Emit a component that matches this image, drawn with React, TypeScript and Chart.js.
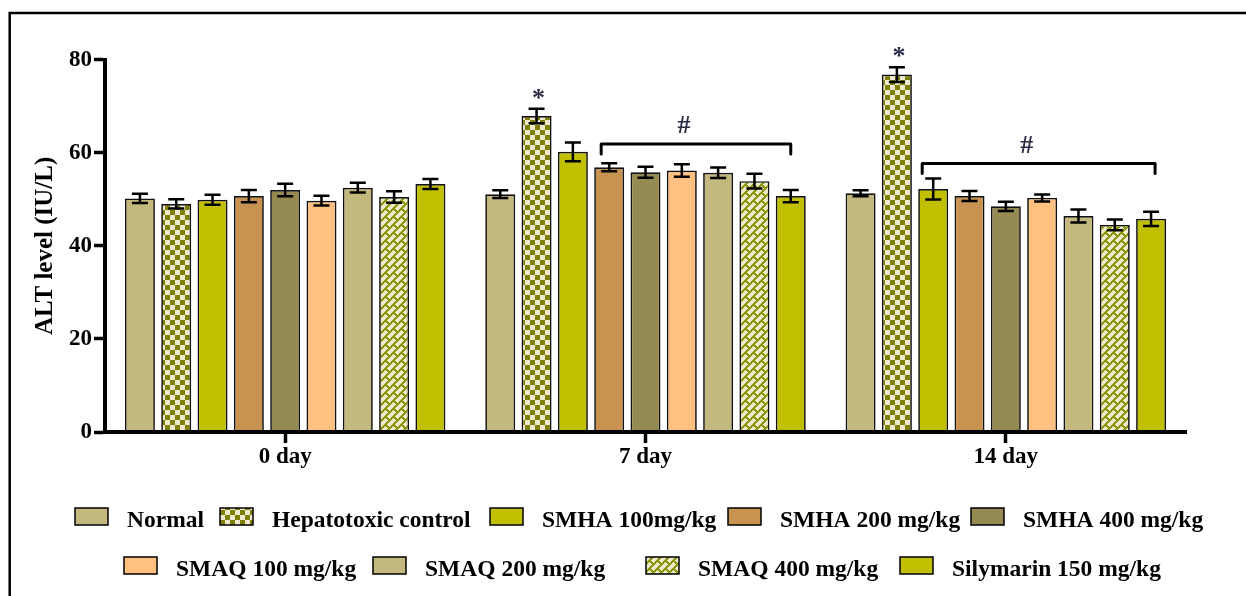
import React, { useEffect, useRef } from 'react';
import { Chart, registerables } from 'chart.js';

Chart.register(...registerables);

// ---------- data ----------
const CATEGORIES = ['0 day', '7 day', '14 day'];
const Y_TICKS = [0, 20, 40, 60, 80];

const NORMAL = [50.2, 51.1, 51.3];
const NORMAL_ERR = [0.97, 0.83, 0.65];
const HEPATOTOXIC = [49.0, 67.9, 76.8];
const HEPATOTOXIC_ERR = [1.0, 1.54, 1.6];
const SMHA100 = [49.9, 60.2, 52.2];
const SMHA100_ERR = [1.08, 2.0, 2.26];
const SMHA200 = [50.7, 56.9, 50.7];
const SMHA200_ERR = [1.32, 0.86, 1.08];
const SMHA400 = [52.0, 55.8, 48.5];
const SMHA400_ERR = [1.32, 1.18, 1.0];
const SMAQ100 = [49.7, 56.2, 50.3];
const SMAQ100_ERR = [1.04, 1.36, 0.75];
const SMAQ200 = [52.5, 55.7, 46.4];
const SMAQ200_ERR = [1.04, 1.11, 1.4];
const SMAQ400 = [50.5, 53.9, 44.5];
const SMAQ400_ERR = [1.22, 1.57, 1.15];
const SILYMARIN = [53.3, 50.7, 45.8];
const SILYMARIN_ERR = [1.08, 1.32, 1.55];

const SERIES_LABELS = [
  'Normal',
  'Hepatotoxic control',
  'SMHA 100mg/kg',
  'SMHA 200 mg/kg',
  'SMHA 400 mg/kg',
  'SMAQ 100 mg/kg',
  'SMAQ 200 mg/kg',
  'SMAQ 400 mg/kg',
  'Silymarin 150 mg/kg',
];
const SERIES_VALUES = [NORMAL, HEPATOTOXIC, SMHA100, SMHA200, SMHA400, SMAQ100, SMAQ200, SMAQ400, SILYMARIN];
const SERIES_ERRORS = [NORMAL_ERR, HEPATOTOXIC_ERR, SMHA100_ERR, SMHA200_ERR, SMHA400_ERR, SMAQ100_ERR, SMAQ200_ERR, SMAQ400_ERR, SILYMARIN_ERR];
const SERIES_FILLS = ['#C3B87D', 'checker', '#C0C000', '#C89250', '#948A52', '#FFC080', '#C3B87D', 'brick', '#C0C000'];

// significance marks: [categoryIndex, seriesIndex]
const STAR_MARKS = [[1, 1], [2, 1]];
// brackets: category, from series, to series, y value
const BRACKET_CATEGORY = [1, 2];
const BRACKET_FROM = [3, 2];
const BRACKET_TO = [8, 8];
const BRACKET_Y = [61.9, 57.7];
const BRACKET_LABEL = ['#', '#'];

// ---------- layout (not data) ----------
const BRACKET_LEFT_DX = [-8, -11];
const BRACKET_RIGHT_DX = [0, 4];
const LEGEND_ROW_TOP = [508, 557];
const LEGEND_BOX_X = [75, 220, 490, 728, 971, 124, 373, 646, 900];
const LEGEND_ROW = [0, 0, 0, 0, 0, 1, 1, 1, 1];

const FONT = "'Liberation Serif', 'Times New Roman', serif";

function makeChecker(): CanvasPattern | string {
  const c = document.createElement('canvas');
  c.width = 10;
  c.height = 10;
  const g = c.getContext('2d')!;
  g.fillStyle = '#F0E9D2';
  g.fillRect(0, 0, 10, 10);
  g.fillStyle = '#808000';
  g.fillRect(0, 0, 5, 5);
  g.fillRect(5, 5, 5, 5);
  return g.createPattern(c, 'repeat') || '#808000';
}

function makeBrick(): CanvasPattern | string {
  const n = 16;
  const c = document.createElement('canvas');
  c.width = n;
  c.height = n;
  const g = c.getContext('2d')!;
  const img = g.createImageData(n, n);
  for (let y = 0; y < n; y++) {
    for (let x = 0; x < n; x++) {
      const s = (x + y) % n;
      const strip = Math.floor(s / 8);
      const d = (((x - y) % n) + n) % n;
      const line = s % 8 < 3 || (d + strip * 8) % n < 3;
      const i = (y * n + x) * 4;
      if (line) {
        img.data[i] = 0x8C; img.data[i + 1] = 0x98; img.data[i + 2] = 0x10;
      } else {
        img.data[i] = 0xEE; img.data[i + 1] = 0xE9; img.data[i + 2] = 0xC8;
      }
      img.data[i + 3] = 255;
    }
  }
  g.putImageData(img, 0, 0);
  return g.createPattern(c, 'repeat') || '#EFEACB';
}

export default function App() {
  const ref = useRef<HTMLCanvasElement | null>(null);

  useEffect(() => {
    const canvas = ref.current;
    if (!canvas) return;
    const checker = makeChecker();
    const brick = makeBrick();
    const fillOf = (f: string) => (f === 'checker' ? checker : f === 'brick' ? brick : f);

    const extras = {
      id: 'extras',
      beforeDraw(chart: any) {
        const ctx = chart.ctx;
        ctx.save();
        ctx.strokeStyle = '#000';
        ctx.lineWidth = 2.5;
        ctx.beginPath();
        ctx.moveTo(8.5, 13);
        ctx.lineTo(1246, 13);
        ctx.moveTo(9.7, 12);
        ctx.lineTo(9.7, 596);
        ctx.stroke();
        ctx.restore();
      },
      afterDatasetsDraw(chart: any) {
        const ctx = chart.ctx;
        const ys = chart.scales.y;
        ctx.save();
        ctx.strokeStyle = '#000';
        ctx.lineWidth = 2.5;
        SERIES_VALUES.forEach((vals, i) => {
          const meta = chart.getDatasetMeta(i);
          meta.data.forEach((bar: any, j: number) => {
            const v = vals[j];
            const e = SERIES_ERRORS[i][j];
            const yt = ys.getPixelForValue(v + e);
            const yb = ys.getPixelForValue(v - e);
            const x = bar.x;
            ctx.beginPath();
            ctx.moveTo(x, yt);
            ctx.lineTo(x, yb);
            ctx.moveTo(x - 8, yt);
            ctx.lineTo(x + 8, yt);
            ctx.moveTo(x - 8, yb);
            ctx.lineTo(x + 8, yb);
            ctx.stroke();
          });
        });

        // stars
        ctx.fillStyle = '#2B2A45';
        ctx.textAlign = 'center';
        ctx.textBaseline = 'alphabetic';
        ctx.font = `bold 26px ${FONT}`;
        STAR_MARKS.forEach(([cat, si]) => {
          const bar: any = chart.getDatasetMeta(si).data[cat];
          const top = ys.getPixelForValue(SERIES_VALUES[si][cat] + SERIES_ERRORS[si][cat]);
          ctx.fillText('*', bar.x + 2, top - 15 + 12);
        });

        // brackets
        BRACKET_CATEGORY.forEach((cat, k) => {
          const b1: any = chart.getDatasetMeta(BRACKET_FROM[k]).data[cat];
          const b2: any = chart.getDatasetMeta(BRACKET_TO[k]).data[cat];
          const x1 = b1.x + BRACKET_LEFT_DX[k];
          const x2 = b2.x + BRACKET_RIGHT_DX[k];
          const y = ys.getPixelForValue(BRACKET_Y[k]);
          ctx.strokeStyle = '#000';
          ctx.lineWidth = 3;
          ctx.lineCap = 'round';
          ctx.lineJoin = 'round';
          ctx.beginPath();
          ctx.moveTo(x1, y + 10);
          ctx.lineTo(x1, y);
          ctx.lineTo(x2, y);
          ctx.lineTo(x2, y + 10);
          ctx.stroke();
          ctx.font = `bold 26px ${FONT}`;
          ctx.fillStyle = '#2B2A45';
          ctx.fillText(BRACKET_LABEL[k], (x1 + x2) / 2 - 12, y - 19 + 8.5);
        });
        ctx.restore();
      },
      afterDraw(chart: any) {
        const ctx = chart.ctx;
        ctx.save();
        ctx.font = `bold 23.5px ${FONT}`;
        ctx.textAlign = 'left';
        ctx.textBaseline = 'alphabetic';
        SERIES_LABELS.forEach((label, i) => {
          const x = LEGEND_BOX_X[i];
          const top = LEGEND_ROW_TOP[LEGEND_ROW[i]];
          ctx.fillStyle = fillOf(SERIES_FILLS[i]) as any;
          ctx.fillRect(x, top, 33, 17);
          ctx.strokeStyle = '#000';
          ctx.lineWidth = 1.5;
          ctx.strokeRect(x, top, 33, 17);
          ctx.fillStyle = '#000';
          ctx.fillText(label, x + 52, top + 18.5);
        });
        ctx.restore();
      },
    };

    const chart = new Chart(canvas, {
      type: 'bar',
      data: {
        labels: CATEGORIES,
        datasets: SERIES_LABELS.map((label, i) => ({
          label,
          data: SERIES_VALUES[i],
          backgroundColor: fillOf(SERIES_FILLS[i]) as any,
          borderColor: '#111',
          borderWidth: 1.7,
          categoryPercentage: 0.907,
          barPercentage: 0.826,
        })),
      },
      options: {
        animation: false,
        responsive: false,
        events: [],
        layout: { padding: { left: 0, right: 60, top: 59.7, bottom: 0 } },
        plugins: { legend: { display: false }, tooltip: { enabled: false } },
        scales: {
          x: {
            type: 'category',
            offset: true,
            grid: {
              display: true,
              drawOnChartArea: false,
              drawTicks: true,
              tickLength: 11,
              tickWidth: 3.5,
              tickColor: '#000',
              offset: false,
              z: 1,
            },
            border: { display: true, color: '#000', width: 4, z: 1 },
            ticks: { color: '#000', font: { family: FONT, size: 23, weight: 'bold' }, padding: 0 },
            afterFit: (s: any) => {
              s.height = 164;
            },
          },
          y: {
            min: 0,
            max: 80,
            afterBuildTicks: (s: any) => {
              s.ticks = Y_TICKS.map((v) => ({ value: v }));
            },
            grid: {
              display: true,
              drawOnChartArea: false,
              drawTicks: true,
              tickLength: 11,
              tickWidth: 3.5,
              tickColor: '#000',
              z: 1,
            },
            border: { display: true, color: '#000', width: 4, z: 1 },
            ticks: { color: '#000', font: { family: FONT, size: 23, weight: 'bold' }, padding: 2 },
            title: {
              display: true,
              text: 'ALT level (IU/L)',
              color: '#000',
              font: { family: FONT, size: 25, weight: 'bold' },
              padding: { top: 31, bottom: 0 },
            },
            afterFit: (s: any) => {
              s.width = 105;
            },
          },
        },
      } as any,
      plugins: [extras],
    });

    return () => chart.destroy();
  }, []);

  return (
    <div style={{ position: 'absolute', left: 0, top: 0, width: 1246, height: 596, background: '#fff' }}>
      <canvas ref={ref} width={1246} height={596} style={{ display: 'block' }} />
    </div>
  );
}
